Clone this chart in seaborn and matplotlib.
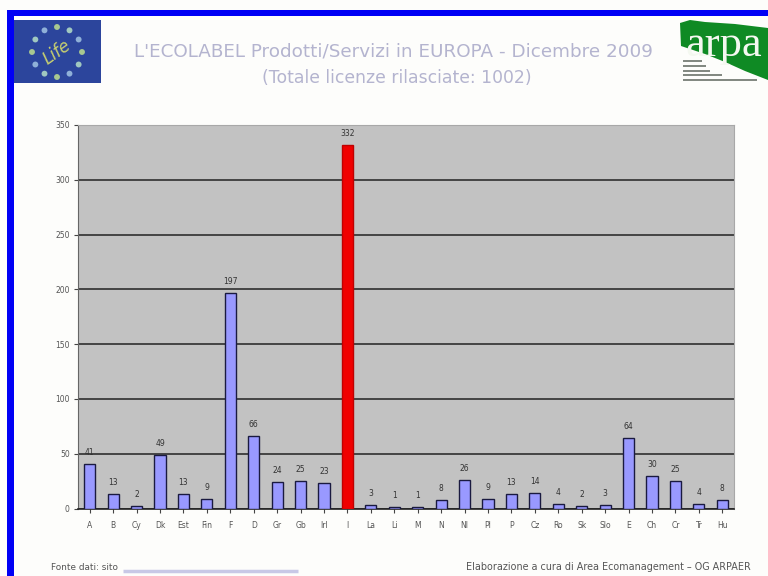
import numpy as np
import pandas as pd
import matplotlib
matplotlib.use("Agg")
import matplotlib.pyplot as plt
from matplotlib.patches import Rectangle, Polygon
import seaborn as sns

countries = ["A", "B", "Cy", "Dk", "Est", "Fin", "F", "D", "Gr", "Gb", "Irl", "I", "La", "Li",
             "M", "N", "Nl", "Pl", "P", "Cz", "Ro", "Sk", "Slo", "E", "Ch", "Cr", "Tr", "Hu"]
licences = [41, 13, 2, 49, 13, 9, 197, 66, 24, 25, 23, 332, 3, 1,
            1, 8, 26, 9, 13, 14, 4, 2, 3, 64, 30, 25, 4, 8]
y_ticks = [0, 50, 100, 150, 200, 250, 300, 350]
highlight = "I"

W, H = 768, 576
sns.set_theme(style="white")
plt.rcParams["font.family"] = ["DejaVu Sans"]

fig = plt.figure(figsize=(W / 100, H / 100), dpi=100, facecolor="#fdfdfb")


def px_axes(left, top, right, bottom, **kw):
    return fig.add_axes([left / W, 1 - bottom / H, (right - left) / W, (bottom - top) / H], **kw)


# Slide furniture drawn in pixel space
deco = px_axes(0, 0, W, H)
deco.set_xlim(0, W)
deco.set_ylim(H, 0)
deco.axis("off")
deco.add_patch(Rectangle((7, 10), W, 6, color="#0000f5", lw=0))
deco.add_patch(Rectangle((7, 10), 7, H, color="#0000f5", lw=0))

# EU flag
deco.add_patch(Rectangle((14, 20), 87, 63, color="#2c459c", lw=0))
angles = np.linspace(0, 2 * np.pi, 12, endpoint=False)
star_colors = ["#a8c890", "#a0c8c0", "#8fb0d8"] * 4
deco.scatter(57 + 25 * np.cos(angles), 52 + 25 * np.sin(angles), s=18, marker="o",
             c=star_colors, lw=0)
deco.text(57, 52, "Life", ha="center", va="center", fontsize=12, style="italic",
          color="#c8d070", rotation=35)

# arpa mark
deco.add_patch(Polygon([(680, 23), (690, 20), (705, 22), (735, 24), (768, 28), (768, 80),
                        (745, 71), (725, 62), (705, 54), (681, 46)],
                       closed=True, color="#0f8a24", lw=0))
deco.text(685, 45, "arpa", fontsize=32, family="Liberation Serif", color="#f4f8f0", va="center")
for y, x1 in [(61, 702), (66, 706), (71, 710), (75, 722), (80, 757)]:
    deco.plot([683, x1], [y, y], color="#80867f", lw=1.4, solid_capstyle="butt")

deco.text(393, 51, "L'ECOLABEL Prodotti/Servizi in EUROPA - Dicembre 2009",
          ha="center", va="center", fontsize=13.2, color="#b4b4cf")
deco.text(397, 78, "(Totale licenze rilasciate: 1002)",
          ha="center", va="center", fontsize=12.4, color="#b4b4cf")

deco.text(51, 567, "Fonte dati: sito", ha="left", va="center", fontsize=6.4, color="#555555")
deco.plot([123, 298], [571, 571], color="#c8c8e6", lw=2.5, solid_capstyle="butt")
deco.text(751, 567, "Elaborazione a cura di Area Ecomanagement – OG ARPAER",
          ha="right", va="center", fontsize=6.9, color="#555555")

# Licence counts by country
ax = px_axes(78, 125, 734, 508.5)
ax.set_facecolor("#c2c2c2")
df = pd.DataFrame({"country": countries, "licences": licences})
palette = {c: ("#f00000" if c == highlight else "#9999ff") for c in countries}
sns.barplot(data=df, x="country", y="licences", hue="country", palette=palette, legend=False,
            order=countries, width=0.48, saturation=1, edgecolor="#1a1a40", linewidth=1, ax=ax, zorder=3)
for bar, c in zip(ax.patches, countries):
    if c == highlight:
        bar.set_edgecolor("#c00000")

ax.set_ylim(0, 350)
ax.set_xlim(-0.5, len(countries) - 0.5)
ax.set_yticks(y_ticks)
ax.set_xlabel("")
ax.set_ylabel("")
ax.grid(axis="y", color="#3a3a3a", lw=1.3, zorder=1)
ax.set_axisbelow(True)
ax.tick_params(axis="y", length=3, width=0.8, color="#444444", labelsize=5.5, labelcolor="#555555", pad=3, left=True)
ax.tick_params(axis="x", length=3, width=0.8, color="#444444", labelsize=5.5, labelcolor="#555555", pad=6, bottom=True)
for side in ["top", "right"]:
    ax.spines[side].set_color("#a8a8a8")
    ax.spines[side].set_linewidth(0.8)
ax.spines["left"].set_color("#666666")
ax.spines["left"].set_linewidth(0.8)
ax.spines["bottom"].set_color("#222222")
ax.spines["bottom"].set_linewidth(1.2)

for i, v in enumerate(licences):
    ax.annotate(str(v), (i, v), xytext=(0, 5), textcoords="offset points",
                ha="center", va="bottom", fontsize=5.5, color="#333333", zorder=4)

fig.savefig("out.png", dpi=100, facecolor=fig.get_facecolor())
